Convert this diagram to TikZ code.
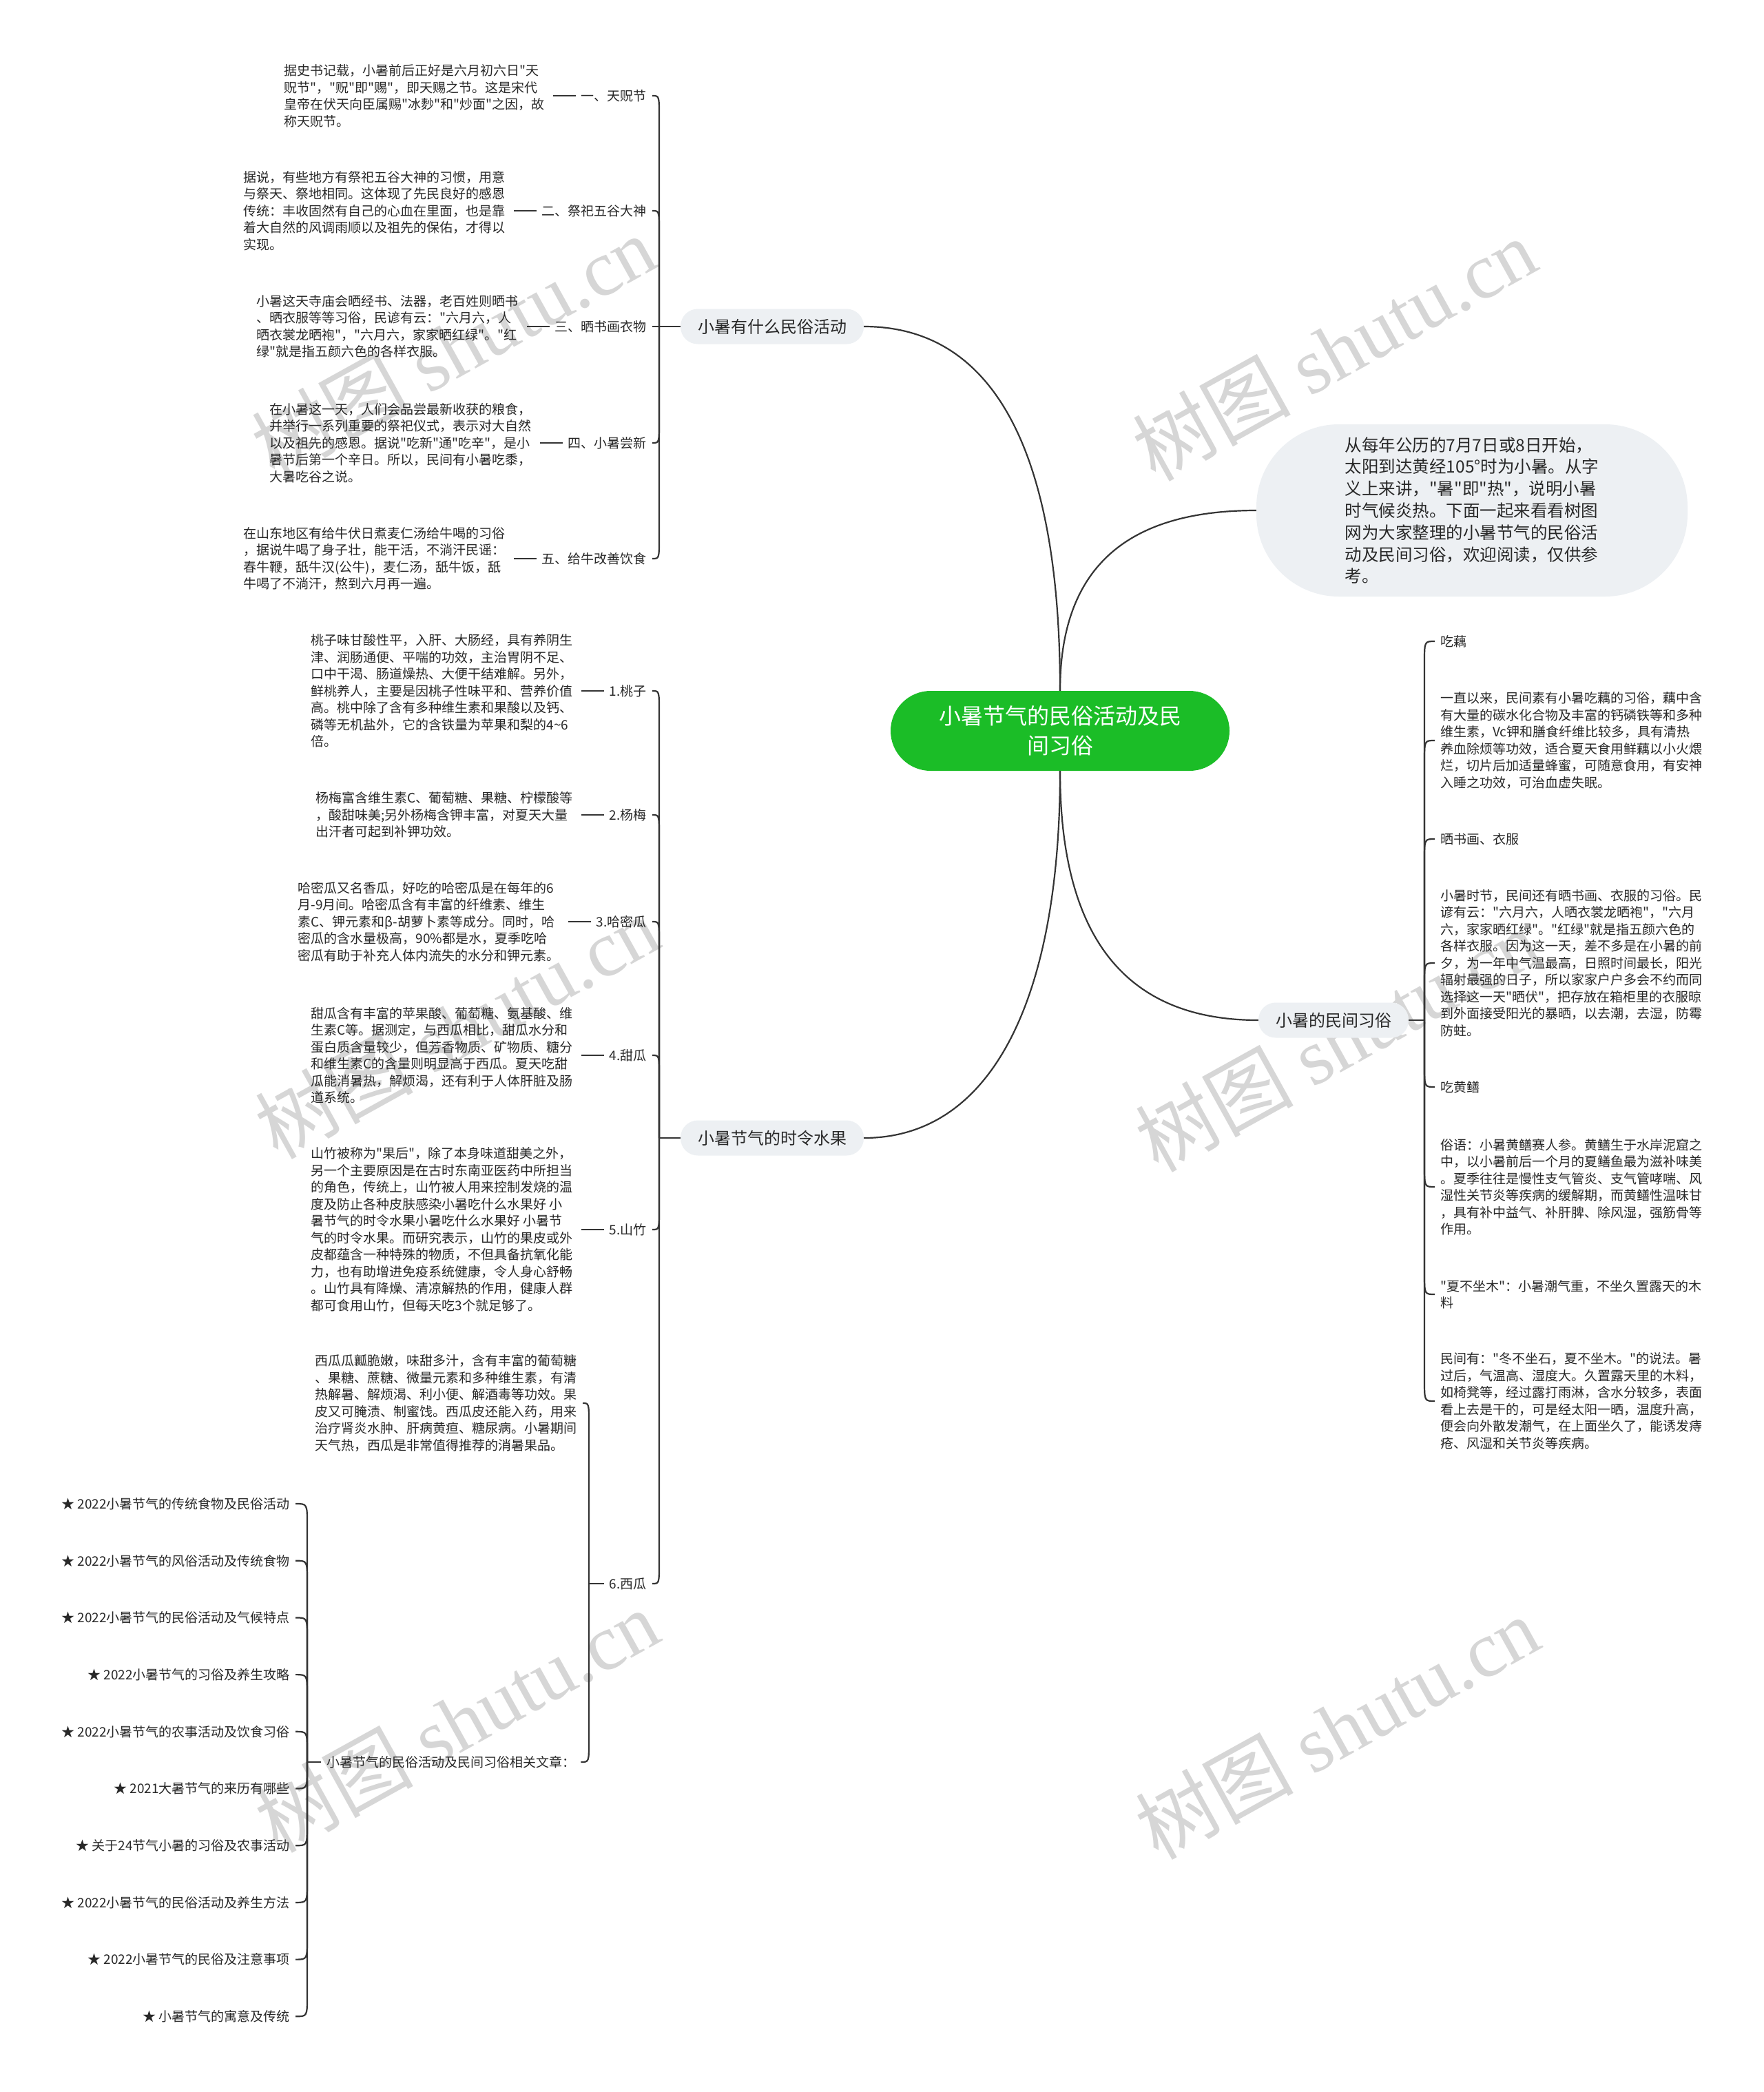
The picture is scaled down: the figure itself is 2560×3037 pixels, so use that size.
\documentclass[tikz,border=0pt]{standalone}
\usepackage{fontspec}
\setmainfont{Noto Sans CJK SC}[Ligatures=TeXOff]
\newfontfamily\wmfont{Liberation Serif}
\usetikzlibrary{positioning,calc}
\definecolor{lnc}{RGB}{52,52,52}
\definecolor{txc}{RGB}{40,40,40}
\definecolor{pillc}{RGB}{237,240,243}
\definecolor{midc}{RGB}{27,189,39}
\definecolor{wmc}{RGB}{214,214,214}

\begin{document}
\begin{tikzpicture}[x=1pt,y=-1pt,
  lnk/.style={draw=lnc,line width=2.2pt},
  hk/.style={to path={-- ($(\tikztostart|-\tikztotarget)+(0,#1)$) .. controls (\tikztostart|-\tikztotarget) .. (\tikztotarget)}},
  txt/.style={text=txc,font=\fontsize{19}{24.5}\selectfont,align=left,inner ysep=3pt},
  lbl/.style={txt,anchor=east,inner xsep=8pt},
  sub/.style={txt,anchor=west,inner xsep=8pt},
  dsc/.style={txt,inner xsep=12pt,left=33pt of #1},
  br/.style={fill=pillc,text=txc,rounded corners=25pt,minimum height=51pt,inner xsep=25pt,font=\fontsize{24}{30}\selectfont},
  wm/.style={text=wmc,rotate=29,font=\fontsize{115}{115}\selectfont}]
\path[use as bounding box,fill=white] (0,0) rectangle (2560,3037);
\foreach \x/\y [count=\k] in {658/503,1937/507,663/1491,1941/1510,663/2498,1941/2508}
  \node[wm] (w\k) at (\x,\y) {树图 {\wmfont shutu.cn}};

\node[fill=midc,text=white,rounded corners=58pt,minimum width=492pt,minimum height=116pt,align=center,font=\fontsize{32}{43}\selectfont] (ctr) at (1539,1061) {小暑节气的民俗活动及民\\间习俗};
\node[br] (b1) at (1121,474) {小暑有什么民俗活动};
\node[br] (b2) at (1121,1652) {小暑节气的时令水果};
\node[br] (b3) at (1936,1481) {小暑的民间习俗};
\node[fill=pillc,text=txc,rounded corners=120pt,minimum width=626pt,minimum height=250pt,align=left,font=\fontsize{24.5}{31.8}\selectfont] (intro) at (2137,741) {从每年公历的7月7日或8日开始，\\
太阳到达黄经105°时为小暑。从字\\
义上来讲，"暑"即"热"，说明小暑\\
时气候炎热。下面一起来看看树图\\
网为大家整理的小暑节气的民俗活\\
动及民间习俗，欢迎阅读，仅供参\\
考。};

\draw[lnk] (ctr.north) .. controls (1539,650) and (1440,474) .. (b1.east);
\draw[lnk] (ctr.north) .. controls (1539,820) and (1640,741) .. (intro.west);
\draw[lnk] (ctr.south) .. controls (1539,1450) and (1440,1652) .. (b2.east);
\draw[lnk] (ctr.south) .. controls (1539,1380) and (1650,1481) .. (b3.west);

\node[lbl] (a1) at (947,139) {一、天贶节};
\node[dsc=a1] (d1) {据史书记载，小暑前后正好是六月初六日"天\\
贶节"，"贶"即"赐"，即天赐之节。这是宋代\\
皇帝在伏天向臣属赐"冰麨"和"炒面"之因，故\\
称天贶节。};
\node[lbl] (a2) at (947,306) {二、祭祀五谷大神};
\node[dsc=a2] (d2) {据说，有些地方有祭祀五谷大神的习惯，用意\\
与祭天、祭地相同。这体现了先民良好的感恩\\
传统：丰收固然有自己的心血在里面，也是靠\\
着大自然的风调雨顺以及祖先的保佑，才得以\\
实现。};
\node[lbl] (a3) at (947,474) {三、晒书画衣物};
\node[dsc=a3] (d3) {小暑这天寺庙会晒经书、法器，老百姓则晒书\\
、晒衣服等等习俗，民谚有云："六月六，人\\
晒衣裳龙晒袍"，"六月六，家家晒红绿"。"红\\
绿"就是指五颜六色的各样衣服。};
\node[lbl] (a4) at (947,643) {四、小暑尝新};
\node[dsc=a4] (d4) {在小暑这一天，人们会品尝最新收获的粮食，\\
并举行一系列重要的祭祀仪式，表示对大自然\\
以及祖先的感恩。据说"吃新"通"吃辛"，是小\\
暑节后第一个辛日。所以，民间有小暑吃黍，\\
大暑吃谷之说。};
\node[lbl] (a5) at (947,811) {五、给牛改善饮食};
\node[dsc=a5] (d5) {在山东地区有给牛伏日煮麦仁汤给牛喝的习俗\\
，据说牛喝了身子壮，能干活，不淌汗民谣：\\
春牛鞭，舐牛汉(公牛)，麦仁汤，舐牛饭，舐\\
牛喝了不淌汗，熬到六月再一遍。};
\coordinate (ja) at (957,474);
\draw[lnk] (b1.west) -- (ja);
\foreach \n/\o in {a1/30,a2/30,a3/0,a4/-30,a5/-30}
  \draw[lnk] (ja) to[hk=\o] (\n.east);
\foreach \k in {1,...,5}
  \draw[lnk] (a\k.west) -- (d\k.east);

\node[lbl] (f1) at (947,1003) {1.桃子};
\node[dsc=f1] (g1) {桃子味甘酸性平，入肝、大肠经，具有养阴生\\
津、润肠通便、平喘的功效，主治胃阴不足、\\
口中干渴、肠道燥热、大便干结难解。另外，\\
鲜桃养人，主要是因桃子性味平和、营养价值\\
高。桃中除了含有多种维生素和果酸以及钙、\\
磷等无机盐外，它的含铁量为苹果和梨的4\textasciitilde 6\\
倍。};
\node[lbl] (f2) at (947,1183) {2.杨梅};
\node[dsc=f2] (g2) {杨梅富含维生素C、葡萄糖、果糖、柠檬酸等\\
，酸甜味美;另外杨梅含钾丰富，对夏天大量\\
出汗者可起到补钾功效。};
\node[lbl] (f3) at (947,1338) {3.哈密瓜};
\node[dsc=f3] (g3) {哈密瓜又名香瓜，好吃的哈密瓜是在每年的6\\
月-9月间。哈密瓜含有丰富的纤维素、维生\\
素C、钾元素和β-胡萝卜素等成分。同时，哈\\
密瓜的含水量极高，90\%都是水，夏季吃哈\\
密瓜有助于补充人体内流失的水分和钾元素。};
\node[lbl] (f4) at (947,1532) {4.甜瓜};
\node[dsc=f4] (g4) {甜瓜含有丰富的苹果酸、葡萄糖、氨基酸、维\\
生素C等。据测定，与西瓜相比，甜瓜水分和\\
蛋白质含量较少，但芳香物质、矿物质、糖分\\
和维生素C的含量则明显高于西瓜。夏天吃甜\\
瓜能消暑热，解烦渴，还有利于人体肝脏及肠\\
道系统。};
\node[lbl] (f5) at (947,1785) {5.山竹};
\node[dsc=f5] (g5) {山竹被称为"果后"，除了本身味道甜美之外，\\
另一个主要原因是在古时东南亚医药中所担当\\
的角色，传统上，山竹被人用来控制发烧的温\\
度及防止各种皮肤感染小暑吃什么水果好 小\\
暑节气的时令水果小暑吃什么水果好 小暑节\\
气的时令水果。而研究表示，山竹的果皮或外\\
皮都蕴含一种特殊的物质，不但具备抗氧化能\\
力，也有助增进免疫系统健康，令人身心舒畅\\
。山竹具有降燥、清凉解热的作用，健康人群\\
都可食用山竹，但每天吃3个就足够了。};
\node[lbl] (f6) at (947,2299) {6.西瓜};
\node[lbl] (g6) at (846,2037) {西瓜瓜瓤脆嫩，味甜多汁，含有丰富的葡萄糖\\
、果糖、蔗糖、微量元素和多种维生素，有清\\
热解暑、解烦渴、利小便、解酒毒等功效。果\\
皮又可腌渍、制蜜饯。西瓜皮还能入药，用来\\
治疗肾炎水肿、肝病黄疸、糖尿病。小暑期间\\
天气热，西瓜是非常值得推荐的消暑果品。};
\node[sub] (xg) at (466,2558) {小暑节气的民俗活动及民间习俗相关文章：};
\foreach \t [count=\k] in {{2022小暑节气的传统食物及民俗活动},{2022小暑节气的风俗活动及传统食物},{2022小暑节气的民俗活动及气候特点},{2022小暑节气的习俗及养生攻略},{2022小暑节气的农事活动及饮食习俗},{2021大暑节气的来历有哪些},{关于24节气小暑的习俗及农事活动},{2022小暑节气的民俗活动及养生方法},{2022小暑节气的民俗及注意事项},{小暑节气的寓意及传统}}
  \node[lbl] (s\k) at (429,{2183+82.7*(\k-1)}) {★ \t};
\coordinate (jf) at (957,1652);
\draw[lnk] (b2.west) -- (jf);
\foreach \n/\o in {f1/30,f2/30,f3/30,f4/30,f5/-30,f6/-30}
  \draw[lnk] (jf) to[hk=\o] (\n.east);
\foreach \k in {1,...,5}
  \draw[lnk] (f\k.west) -- (g\k.east);
\coordinate (jw) at (855,2299);
\draw[lnk] (f6.west) -- (jw);
\draw[lnk] (jw) to[hk=30] (g6.east);
\draw[lnk] (jw) to[hk=-30] (xg.east);
\coordinate (js) at (446,2558);
\draw[lnk] (xg.west) -- (js);
\foreach \k in {1,...,5}
  \draw[lnk] (js) to[hk=30] (s\k.east);
\foreach \k in {6,...,10}
  \draw[lnk] (js) to[hk=-30] (s\k.east);

\node[sub] (r1) at (2083,931) {吃藕};
\node[sub] (r2) at (2083,1075) {一直以来，民间素有小暑吃藕的习俗，藕中含\\
有大量的碳水化合物及丰富的钙磷铁等和多种\\
维生素，Vc钾和膳食纤维比较多，具有清热\\
养血除烦等功效，适合夏天食用鲜藕以小火煨\\
烂，切片后加适量蜂蜜，可随意食用，有安神\\
入睡之功效，可治血虚失眠。};
\node[sub] (r3) at (2083,1218) {晒书画、衣服};
\node[sub] (r4) at (2083,1398) {小暑时节，民间还有晒书画、衣服的习俗。民\\
谚有云："六月六，人晒衣裳龙晒袍"，"六月\\
六，家家晒红绿"。"红绿"就是指五颜六色的\\
各样衣服。因为这一天，差不多是在小暑的前\\
夕，为一年中气温最高，日照时间最长，阳光\\
辐射最强的日子，所以家家户户多会不约而同\\
选择这一天"晒伏"，把存放在箱柜里的衣服晾\\
到外面接受阳光的暴晒，以去潮，去湿，防霉\\
防蛀。};
\node[sub] (r5) at (2083,1578) {吃黄鳝};
\node[sub] (r6) at (2083,1723) {俗语：小暑黄鳝赛人参。黄鳝生于水岸泥窟之\\
中，以小暑前后一个月的夏鳝鱼最为滋补味美\\
。夏季往往是慢性支气管炎、支气管哮喘、风\\
湿性关节炎等疾病的缓解期，而黄鳝性温味甘\\
，具有补中益气、补肝脾、除风湿，强筋骨等\\
作用。};
\node[sub] (r7) at (2083,1879) {"夏不坐木"：小暑潮气重，不坐久置露天的木\\
料};
\node[sub] (r8) at (2083,2034) {民间有："冬不坐石，夏不坐木。"的说法。暑\\
过后，气温高、湿度大。久置露天里的木料，\\
如椅凳等，经过露打雨淋，含水分较多，表面\\
看上去是干的，可是经太阳一晒，温度升高，\\
便会向外散发潮气，在上面坐久了，能诱发痔\\
疮、风湿和关节炎等疾病。};
\coordinate (jr) at (2068,1481);
\draw[lnk] (b3.east) -- (jr);
\foreach \n/\o in {r1/30,r2/30,r3/30,r4/30,r5/-30,r6/-30,r7/-30,r8/-30}
  \draw[lnk] (jr) to[hk=\o] (\n.west);
\end{tikzpicture}
\end{document}
